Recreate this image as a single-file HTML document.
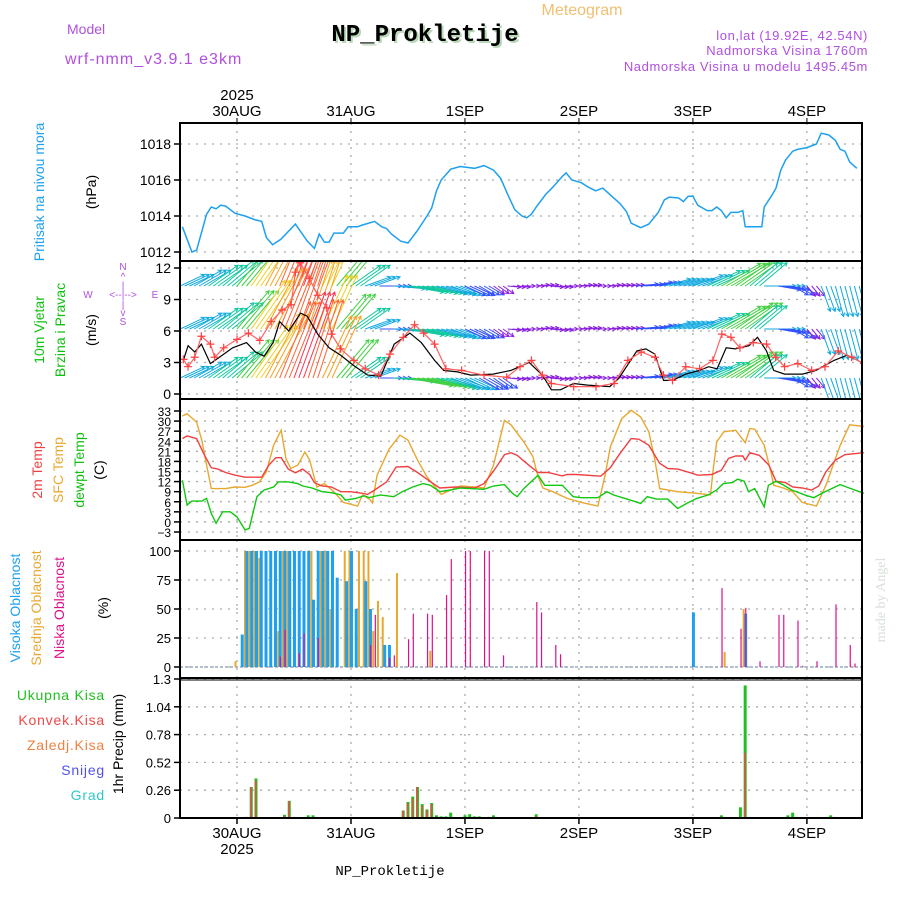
<!DOCTYPE html>
<html><head><meta charset="utf-8"><style>
html,body{margin:0;padding:0;background:#fff}
svg{display:block;font-family:"Liberation Sans",sans-serif}
</style></head><body>
<svg id="c" width="900" height="900" viewBox="0 0 900 900" xmlns="http://www.w3.org/2000/svg">
<defs><clipPath id="windclip"><rect x="180" y="261" width="682" height="138"/></clipPath></defs>
<g>
<text x="582" y="15" font-size="16" fill="#f0c070" text-anchor="middle">Meteogram</text>
<text x="427" y="43" font-size="24" font-weight="bold" font-family="Liberation Mono, monospace" fill="#b8d8b8" text-anchor="middle">NP_Prokletije</text>
<text x="425" y="41" font-size="24" font-weight="bold" font-family="Liberation Mono, monospace" fill="#000" text-anchor="middle">NP_Prokletije</text>
<text x="67" y="34" font-size="14" fill="#b050e0">Model</text>
<text x="65" y="64" font-size="16" fill="#b050e0" letter-spacing="1">wrf-nmm_v3.9.1 e3km</text>
<text x="868" y="40" font-size="13" fill="#b050e0" text-anchor="end" letter-spacing="0.6">lon,lat (19.92E, 42.54N)</text>
<text x="868" y="55" font-size="13" fill="#b050e0" text-anchor="end" letter-spacing="0.6">Nadmorska Visina 1760m</text>
<text x="868" y="71" font-size="13" fill="#b050e0" text-anchor="end" letter-spacing="0.6">Nadmorska Visina u modelu 1495.45m</text>
</g>
<g>
<text transform="translate(44,192) rotate(-90)" font-size="14" fill="#1ea0f0" text-anchor="middle">Pritisak na nivou mora</text>
<text transform="translate(96,192) rotate(-90)" font-size="14" fill="#000" text-anchor="middle">(hPa)</text>
<text transform="translate(44,330) rotate(-90)" font-size="14" fill="#10c010" text-anchor="middle">10m Vjetar</text>
<text transform="translate(65,330) rotate(-90)" font-size="14" fill="#10c010" text-anchor="middle">Brzina i Pravac</text>
<text transform="translate(96,330) rotate(-90)" font-size="14" fill="#000" text-anchor="middle">(m/s)</text>
<g font-size="10" fill="#b050e0" text-anchor="middle">
<text x="123" y="270">N</text><text x="123" y="280">^</text><text x="123" y="289">|</text>
<text x="88" y="298">W</text><text x="123" y="298">&lt;--|--&gt;</text><text x="155" y="298">E</text>
<text x="123" y="308">|</text><text x="123" y="316">v</text><text x="123" y="325">S</text>
</g>
<text transform="translate(42,470) rotate(-90)" font-size="14" fill="#f04040" text-anchor="middle">2m Temp</text>
<text transform="translate(63,470) rotate(-90)" font-size="14" fill="#e8a830" text-anchor="middle">SFC Temp</text>
<text transform="translate(84,470) rotate(-90)" font-size="14" fill="#10c010" text-anchor="middle">dewpt Temp</text>
<text transform="translate(104,470) rotate(-90)" font-size="14" fill="#000" text-anchor="middle">(C)</text>
<text transform="translate(20,608) rotate(-90)" font-size="14" fill="#1ea0f0" text-anchor="middle">Visoka Oblacnost</text>
<text transform="translate(41,608) rotate(-90)" font-size="14" fill="#e8a830" text-anchor="middle">Srednja Oblacnost</text>
<text transform="translate(64,608) rotate(-90)" font-size="14" fill="#e0108a" text-anchor="middle">Niska Oblacnost</text>
<text transform="translate(108,608) rotate(-90)" font-size="14" fill="#000" text-anchor="middle">(%)</text>
<g font-size="14" text-anchor="end" letter-spacing="0.8">
<text x="105" y="700" fill="#20c020">Ukupna  Kisa</text>
<text x="105" y="725" fill="#f04848">Konvek.Kisa</text>
<text x="105" y="750" fill="#f08040">Zaledj.Kisa</text>
<text x="105" y="775" fill="#5050f0">Snijeg</text>
<text x="105" y="800" fill="#30c8c8">Grad</text>
</g>
<text transform="translate(123,744) rotate(-90)" font-size="14" fill="#000" text-anchor="middle">1hr Precip (mm)</text>
<text transform="translate(885,600) rotate(-90)" font-size="14" fill="#d8e0d8" font-family="Liberation Serif, serif" text-anchor="middle">made by Angel</text>
<text x="390" y="875" font-size="14" fill="#000" font-family="Liberation Mono, monospace" text-anchor="middle">NP_Prokletije</text>
</g>
<g id="plot"></g>
</svg>
<script>
// ---- data (hours from 29AUG 12Z) ----
const dayLabels=["30AUG","31AUG","1SEP","2SEP","3SEP","4SEP"];
const dayHours=[12,36,60,84,108,132];
const presHours=[0.5,2.5,3.5,5.6,6.6,7.6,8.6,9.6,11.6,13.7,15.7,17.2,18.2,19.5,21.2,24.3,26.8,28.3,29.3,30.4,31.4,32.4,34.4,35.4,37.4,38.4,41,42.5,43.5,44.5,46.5,48,50,52,53,54,55,57,59,62,64,66,67.5,69,70.5,72,73,74,75,77,78.5,80.5,81.3,82.5,84.5,86,87.5,89,90.5,92.6,94,95,97,98.7,100.7,102,103,105,106,107,108,109,111,112,113,114,115,116,117.5,118.5,119,120.5,122.5,123,124.5,125.5,126.5,127.5,129,130,132,134,135,136.6,138,139,140,141,142.5,144];
const presVals=[1013.4,1012.0,1012.1,1014.1,1014.5,1014.4,1014.6,1014.55,1014.15,1014.0,1013.8,1013.7,1012.8,1012.4,1012.7,1013.55,1012.6,1012.2,1013.0,1012.55,1012.55,1013.05,1013.05,1013.4,1013.4,1013.5,1013.7,1013.4,1013.3,1013.0,1012.6,1012.5,1013.2,1014.0,1014.45,1015.4,1016.0,1016.6,1016.75,1016.65,1016.8,1016.55,1016.1,1015.2,1014.35,1014.0,1013.9,1014.1,1014.5,1015.2,1015.6,1016.2,1016.4,1016.0,1015.85,1015.6,1015.4,1015.55,1015.2,1014.7,1014.25,1013.6,1013.35,1013.55,1014.2,1014.9,1015.05,1015.0,1014.8,1015.1,1015.1,1014.6,1014.3,1014.3,1014.5,1014.3,1013.9,1014.2,1014.2,1014.3,1013.4,1013.4,1013.4,1014.5,1015.1,1015.55,1016.55,1017.1,1017.6,1017.7,1017.8,1018.0,1018.6,1018.5,1018.2,1017.7,1017.6,1017.0,1016.65];
const presTicks=[1012,1014,1016,1018];

const t2Hours=[0.5,1.5,3.5,5,6.6,8,9.6,11.6,13.7,17.2,18.7,20.2,21.3,22.8,24.3,25.8,27.3,28.3,29.9,31.9,33.9,35.9,38.4,39.5,41,43.5,45.5,48,50,53,54.7,58,62,64,66,68.3,69.7,71,73,75.4,77.5,80.5,81.5,83.5,88.6,90.6,92.6,95,96.6,98.7,100,101,102.7,104.8,107.5,109,112,114,115.5,117,118.5,119,120,122,124,125.5,127.5,129,131,133,134.5,136,138,140,144];
const t2Vals=[24.8,25.6,24.8,20.3,16.1,15.7,14.7,13.9,13.3,13.3,16.9,19.1,19.1,15.7,14.6,15.7,14.1,11.7,10.7,10.4,9.0,9.0,8.5,8.2,9.5,11.9,16.3,16.5,14.7,11.7,10.1,10.4,10.1,11.4,15.1,20.0,20.6,19.8,17.4,14.7,14.7,13.7,14.1,14.1,13.6,16.1,20.3,24.8,24.6,22.8,19.8,17.4,15.9,15.7,14.6,13.9,14.1,15.4,18.9,19.6,19.6,18.4,20.6,19.8,16.9,12.1,11.7,10.4,10.1,9.5,10.7,14.9,18.4,20.0,20.6];
const sfcHours=[0.5,1.5,3.5,4.6,5.6,6.6,9.6,11.6,13.7,15.2,16.7,18.2,19.7,21.3,22.3,23.3,24.8,26.3,27.3,28.8,30.4,32.4,34.4,37.4,38.4,39.9,40.5,41.5,44,46.3,48,50,52,55,57,59,62,64,66,68.3,69.7,72.4,74.3,75.3,76.4,78.5,81.5,84.5,88,89.5,90.6,93,95,97,98.7,100,101,104.8,108.8,111.7,112.2,113,114.5,117,119,120,121,123,124.5,125,127,129,131,134,136,139,141,144];
const sfcVals=[31.5,32.2,29.7,24.3,16.9,9.9,9.9,10.4,10.3,10.9,11.9,14.9,22.8,27.3,18.9,15.9,16.9,20.8,18.4,10.4,11.4,9.0,5.8,4.7,8.0,6.8,5.7,13.9,21.6,25.8,24.3,18.4,13.4,8.2,9.5,10.7,10.4,10.1,16.9,30.2,28.9,23.8,19.4,13.9,10.1,9.0,7.0,5.8,4.7,13.9,22.3,30.7,33.2,31.2,26.8,18.4,9.9,9.0,8.5,8.0,14.9,23.8,26.8,27.3,23.6,27.8,27.6,22.8,14.4,10.9,10.1,9.0,5.8,4.7,10.9,22.8,28.9,28.4];
const dewHours=[0.5,1.5,2.5,4.6,5.6,6.6,7.6,9,10.6,12,13.7,14.6,16.2,17.7,19.7,20.7,22.8,24.8,25.8,27.8,29.9,31.9,33.9,34.8,37,38.8,39.8,42.2,45,46.8,49,51.2,52.7,54.7,57,59,64,66,68.3,70,71,72.4,75.4,76.8,80.5,82.8,84.5,88,89.9,91.3,93.7,97,98.4,100.3,102.7,104.8,106.7,108.8,111.2,113,114.4,116.3,117.4,118.8,119.7,121,123,123.9,125.5,126.9,128.8,132,133.4,135.8,139,140.9,144];
const dewVals=[12.4,5.0,6.2,6.2,7.0,2.5,-0.4,3.0,3.0,1.5,-2.4,-1.9,7.5,9.5,10.4,11.9,11.9,11.4,10.7,10.1,9.0,8.7,8.0,6.5,7.0,7.8,7.2,8.0,7.5,9.0,10.4,11.4,10.9,9.0,9.5,10.1,9.7,10.7,11.1,8.5,7.5,9.9,13.9,10.9,10.9,7.5,7.2,7.2,9.0,8.0,7.0,5.5,7.5,6.8,6.8,4.0,5.5,7.0,8.0,9.5,11.4,11.7,12.7,12.1,9.0,9.9,4.5,10.9,12.1,11.1,9.5,7.8,7.2,9.0,11.1,10.1,8.5];
const tempTicks=[-3,0,3,6,9,12,15,18,21,24,27,30,33];

const wsHours=[0.7,1.7,3.1,4.5,6.4,8.3,11.1,14,15.9,17.7,19.6,21,22.9,25.4,26.8,29,31.4,33.8,36.6,39.5,42.3,45.1,48.4,50.8,53.6,55.5,58.4,61.2,65.9,69.7,73.5,76.3,78.2,80.1,82.9,85.8,90.5,92.4,96.2,98.1,100,101.8,103.7,106.5,109.4,111.3,113.1,115,116.9,119.8,121.6,123.5,125,127.3,131.1,133.9,137.7,140.5,144];
const wsVals=[3.2,4.6,4.0,4.75,2.9,3.5,4.4,4.9,4.0,3.6,4.9,6.9,6.0,7.7,7.4,5.7,4.4,3.7,2.7,1.8,1.7,4.75,5.8,4.9,3.2,2.25,2.1,1.8,1.9,2.25,3.0,1.8,0.4,0.4,1.0,0.85,0.7,1.5,4.1,4.3,3.8,1.3,1.3,1.9,2.25,2.6,2.4,4.4,4.3,4.6,5.4,4.1,2.25,1.9,1.9,2.25,3.2,3.7,2.9];
const gustHours=[0.7,1.7,3.1,4.5,6.4,7.3,9.2,12,14.4,16.8,19.2,21.5,23.4,24.3,25.3,27.2,29,30.9,31.9,33.8,36.6,39,41.8,44.2,47,49.4,51.3,53.6,56,59.3,64,68.8,71.6,74,76.3,78.2,82.9,87.6,91.4,94.3,97.1,100,101.8,103.7,106.5,109.4,112.2,114.1,116,117.9,120.7,123.5,125.4,127.3,130.1,133,135.8,138.6,141.4,144];
const gustVals=[3.3,2.6,3.5,5.5,4.75,3.5,4.4,5.2,5.8,5.1,6.9,8.0,8.5,11.6,12.5,11.0,9.4,8.2,5.7,4.3,3.2,2.4,1.8,3.8,5.4,6.6,5.8,4.75,2.4,2.25,1.8,1.6,2.6,3.2,1.8,1.0,0.7,0.7,1.0,3.2,4.0,3.5,1.8,1.3,2.6,2.4,3.2,5.7,5.4,4.4,4.9,4.75,3.5,2.6,2.9,2.25,2.6,4.1,3.5,2.9];
const windTicks=[0,3,6,9,12];
// wind vectors every 3h (h=0..141): arrow direction (deg, 0=east, 90=north) and speed per level
const vecDir=[25,30,35,40,50,55,62,68,70,72,65,50,35,20,0,-5,-10,-12,-15,-20,-25,-30,-35,-5,0,5,-5,0,5,0,5,5,5,10,15,15,20,25,30,35,40,0,-10,-30,-50,-70,-75,-75];
const vecSpdTop=[5,6,7,8,10,12,15,17,18,16,13,10,7,5,4,6,7,7,6,5,4,3,2,2,2,2,2,2,2,2,2,2,4,4,5,5,6,7,9,9,7,6,4,3,2,5,6,6];
const vecSpdMid=[5,6,7,8,10,12,14,16,17,15,12,9,7,5,4,6,7,7,6,5,4,3,2,2,2,2,2,2,2,2,2,2,4,4,5,5,6,7,9,9,7,6,4,3,2,5,6,6];
const vecSpdLow=[5,6,7,8,10,13,15,17,19,17,14,10,7,5,4,8,9,9,8,6,5,4,3,2,2,2,2,2,2,2,2,2,4,4,5,5,6,7,9,9,7,6,4,3,2,5,6,6];

const highHours=[13,14,15,16,17,18,19,20,21,22,23,24,25,26,27,28,29,30,31,32,33,35,36,37,39,40,43,44,108,119];
const highVals=[28,100,100,100,100,100,100,100,100,100,100,100,100,100,100,58,100,100,100,100,77,74,100,50,74,50,19,19,47,46];
const midHours=[12,14,15,16,17,21,22,23,28,30,31,32,35,36,38,39,40,41,42,43,46,53,115,119];
const midVals=[5,100,100,100,94,31,100,100,100,100,100,50,100,100,100,100,100,31,57,43,81,14,13,50];
const lowHours=[21,22,25,26,29,40,41,44,45,48,49,52,53,56,57,60,61,64,65,68,75,76,79,80,114,118,119,122,126,127,130,131,134,138,141,142];
const lowVals=[9,32,12,29,25,19,45,8,10,24,46,46,45,62,93,100,100,100,100,10,56,47,19,11,68,33,51,5,45,45,40,1,5,54,19,3];
const cloudTicks=[0,25,50,75,100];

const rainHours=[14,15,16,22,23,24,27,28,47,48,49,50,51,52,53,54,55,56,57,60,61,62,63,65,66,75,114,118,119,128,129,130,137,138];
const rainVals=[0.01,0.29,0.37,0.03,0.16,0.01,0.025,0.025,0.07,0.15,0.2,0.29,0.13,0.08,0.14,0.025,0.015,0.015,0.05,0.025,0.035,0.015,0.015,0.01,0.025,0.035,0.025,0.1,1.24,0.025,0.05,0.01,0.025,0.01];
const convVals=[0.01,0.29,0.35,0.02,0.16,0,0,0,0.07,0.14,0.18,0.29,0.12,0.07,0.13,0,0,0,0,0,0,0,0,0,0,0.02,0,0.01,0.61,0,0,0,0,0];
const precipTicks=[0,0.26,0.52,0.78,1.04,1.3];

// ---- helpers ----
const NS="http://www.w3.org/2000/svg";
const plot=document.getElementById('plot');
const X0=180,X1=862,PXH=(X1-X0)/143.6;
const xs=h=>X0+h*PXH;
function mk(tag,attrs,parent){const e=document.createElementNS(NS,tag);for(const k in attrs)e.setAttribute(k,attrs[k]);(parent||plot).appendChild(e);return e;}
function lin(v0,y0,v1,y1){return v=>y0+(v-v0)*(y1-y0)/(v1-v0);}
const panels=[
 {name:'pressure',top:123,bot:261,y:lin(1012,252,1018,144),ticks:presTicks,fmt:v=>v,fs:14},
 {name:'wind',top:261,bot:399,y:lin(0,394,12,268),ticks:windTicks,fmt:v=>v,fs:14},
 {name:'temperature',top:399,bot:540,y:lin(-3,532,33,411),ticks:tempTicks,fmt:v=>v<0?'\u22123':v,fs:12},
 {name:'cloud',top:540,bot:678,y:lin(0,667,100,551),ticks:cloudTicks,fmt:v=>v,fs:13},
 {name:'precip',top:678,bot:818,y:lin(0,818,1.3,679),ticks:precipTicks,fmt:v=>v,fs:13}
];
panels.forEach(p=>{
 const g=mk('g',{});
 
 
 const grid=mk('g',{stroke:'#aaa','stroke-width':1.3,'stroke-dasharray':'2,6'},g);
 
 
 dayHours.forEach(h=>mk('line',{x1:xs(h),x2:xs(h),y1:p.top,y2:p.bot},grid));
 const ax=mk('g',{},g);
 
 
 p.ticks.forEach(t=>{
  const y=p.y(t);
  mk('line',{x1:X0,x2:X1,y1:y,y2:y},grid);
  mk('line',{x1:X0-6,x2:X0,y1:y,y2:y,stroke:'#000','stroke-width':1.5},ax);
  const tx=mk('text',{x:X0-9,y:y+5,'font-size':p.fs,'text-anchor':'end',fill:'#000'},ax);
  tx.textContent=p.fmt(t);
 });
 p.g=g;
});
// x-axis labels
const xt=mk('g',{'font-size':15,'text-anchor':'middle',fill:'#000'});


dayLabels.forEach((d,i)=>{
 const x=xs(dayHours[i]);
 let t=mk('text',{x:x,y:116},xt);t.textContent=d;
 t=mk('text',{x:x,y:838},xt);t.textContent=d;
 mk('line',{x1:x,x2:x,y1:118,y2:123,stroke:'#000'},xt);
 mk('line',{x1:x,x2:x,y1:818,y2:824,stroke:'#000','stroke-width':1.5},xt);
});
let t=mk('text',{x:xs(dayHours[0]),y:100},xt);t.textContent='2025';
t=mk('text',{x:xs(dayHours[0]),y:854},xt);t.textContent='2025';

function line(hours,vals,yf,color,name,w,parent){
 const d=hours.map((h,i)=>(i?'L':'M')+xs(h).toFixed(1)+','+yf(vals[i]).toFixed(1)).join('');
 const e=mk('path',{d:d,fill:'none',stroke:color,'stroke-width':w||1.4},parent);
 
 
 return e;
}
// pressure
line(presHours,presVals,panels[0].y,'#1ea0f0','pressure-line',1.5);
// wind vectors
function spdColor(s){
 if(s<3) return '#8a20e0';
 const c=['#3050ff','#10a8e0','#10c8a0','#40d040','#b0e020','#f0d020','#f8a020','#ff6030','#ff3050'];
 return c[Math.min(c.length-1,Math.floor((s-3)/1.8))];
}
const wclip=mk('g',{'clip-path':'url(#windclip)'});


const levels=[{s:vecSpdTop,y:286,n:'wind-vectors-upper'},{s:vecSpdMid,y:329,n:'wind-vectors-mid'},{s:vecSpdLow,y:378,n:'wind-vectors-low'}];
levels.forEach(L=>{
 const g=mk('g',{},wclip);
 
 
 for(let h=0;h<144;h++){
  const i=Math.min(vecDir.length-1,Math.floor(h/3));
  const s=L.s[i],a=vecDir[i]*Math.PI/180,len=4+s*4.6;
  const x0=xs(h),y0=L.y,x1=x0+Math.cos(a)*len,y1=y0-Math.sin(a)*len;
  const col=spdColor(s);
  const hx=Math.cos(a),hy=-Math.sin(a);
  const ah=4;
  const d='M'+x0.toFixed(1)+','+y0+'L'+x1.toFixed(1)+','+y1.toFixed(1)+
   'M'+(x1-ah*(hx*0.9-hy*0.5)).toFixed(1)+','+(y1-ah*(hy*0.9+hx*0.5)).toFixed(1)+'L'+x1.toFixed(1)+','+y1.toFixed(1)+
   'L'+(x1-ah*(hx*0.9+hy*0.5)).toFixed(1)+','+(y1-ah*(hy*0.9-hx*0.5)).toFixed(1);
  const e=mk('path',{d:d,stroke:col,'stroke-width':1,fill:'none'},g);
  
  
 }
});
line(wsHours,wsVals,panels[1].y,'#000','wind-speed-line',1.2,wclip);
line(gustHours,gustVals,panels[1].y,'#ff6060','wind-gust-line',1.2,wclip);
const gm=mk('g',{stroke:'#ff4040','stroke-width':1.2},wclip);


gustHours.forEach((h,i)=>{const x=xs(h),y=panels[1].y(gustVals[i]);
 mk('path',{d:`M${x-4},${y}h8M${x},${y-4}v8`},gm);});
// temperatures
line(sfcHours,sfcVals,panels[2].y,'#e8a830','sfc-temp-line',1.4);
line(t2Hours,t2Vals,panels[2].y,'#f04040','temp2m-line',1.4);
line(dewHours,dewVals,panels[2].y,'#10c810','dewpt-line',1.4);
// clouds
function bars(hours,vals,yf,color,w,off,name){
 const g=mk('g',{fill:color});
 
 
 hours.forEach((h,i)=>{const y=yf(vals[i]),y0=yf(0);
  const r=mk('rect',{x:xs(h)+off,y:Math.min(y,y0),width:w,height:Math.abs(y0-y)},g);
  
  });
}
const cy=panels[3].y;
mk('line',{x1:X0,x2:X1,y1:cy(0),y2:cy(0),stroke:'#9ab',"stroke-width":1.5,'stroke-dasharray':'3,2'});
bars(midHours,midVals,cy,'#e8a830',2,-2.5,'mid-cloud');
bars(highHours,highVals,cy,'#1ea0f0',3,-1,'high-cloud');
bars(lowHours,lowVals,cy,'#e0108a',1.2,0,'low-cloud');
// precip
const py=panels[4].y;
bars(rainHours,rainVals,py,'#20c020',3,-1.5,'total-rain');
bars(rainHours,convVals,py,'#f04848',1.5,-1,'convective-rain');
// panel borders
panels.forEach(p=>{const r=mk('rect',{x:X0,y:p.top,width:X1-X0,height:p.bot-p.top,fill:'none',stroke:'#000','stroke-width':2});
 
 });
mk('line',{x1:X0,x2:X1,y1:680,y2:680,stroke:'#000','stroke-width':1});
</script>
</body></html>
